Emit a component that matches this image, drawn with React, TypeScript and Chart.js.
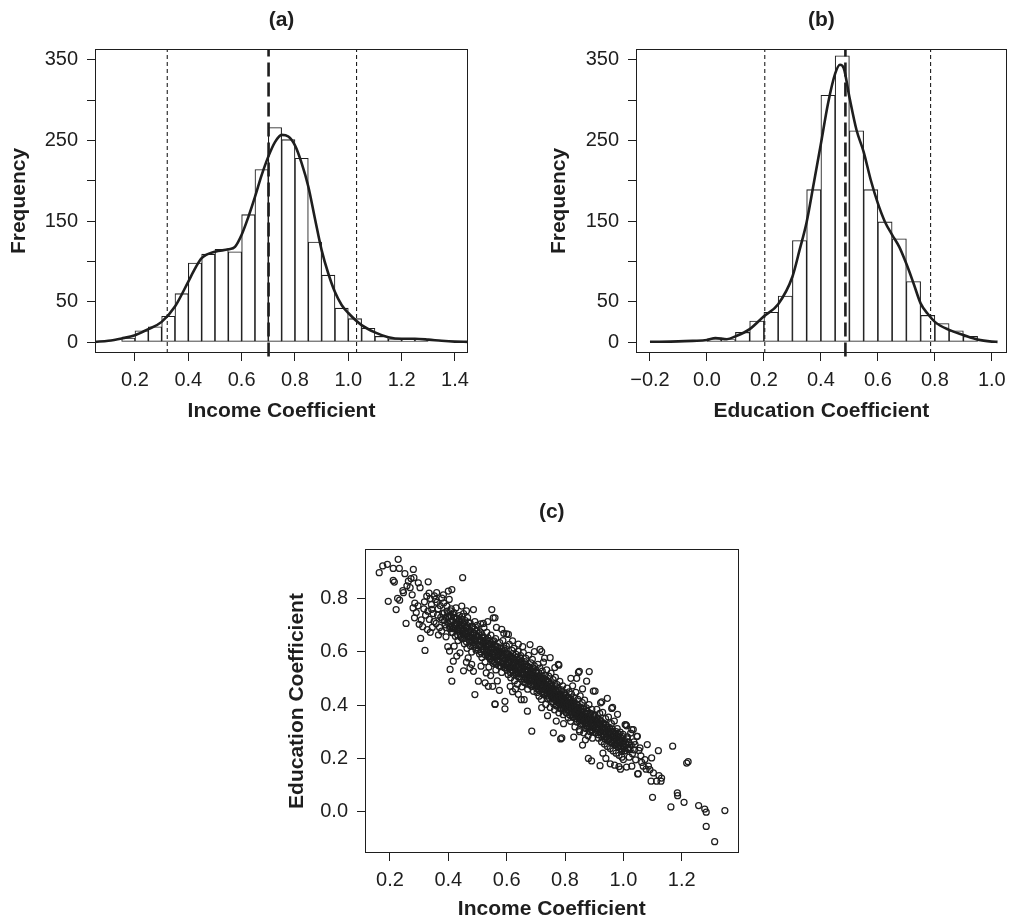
import React, { useEffect, useRef } from 'react';
import { Chart, registerables } from 'chart.js';

Chart.register(...registerables);

const FONT = "'Liberation Sans', Arial, Helvetica, sans-serif";
const INK = '#1e1e1e';

// ---------- Panel (a): income coefficient histogram ----------
const binWidth = 0.05;
const incomeBinStart = 0.15;
const incomeCounts = [5, 14, 19, 32, 60, 98, 109, 115, 112, 158, 214, 266, 251, 228, 124, 83, 42, 29, 17, 7, 4, 3, 3];
const incomeDensityX = [0.05, 0.1, 0.15, 0.2, 0.25, 0.3, 0.35, 0.4, 0.425, 0.45, 0.5, 0.55, 0.575, 0.6, 0.625, 0.65, 0.675, 0.7, 0.725, 0.75, 0.775, 0.8, 0.825, 0.85, 0.875, 0.9, 0.925, 0.95, 0.975, 1.0, 1.05, 1.1, 1.15, 1.2, 1.25, 1.3, 1.35, 1.4, 1.45];
const incomeDensityY = [0.2, 1.5, 4.5, 8.5, 16, 25, 44, 75, 91, 104, 112, 115, 118, 133, 155, 180, 207, 230, 248, 257, 255, 244, 222, 193, 153, 114, 85, 62, 46, 36, 21, 12, 6, 4, 4, 3, 1.5, 0.5, 0.2];
const incomeLines = [0.321, 0.701, 1.031]; // lower, mean, upper

// ---------- Panel (b): education coefficient histogram ----------
const educationBinStart = 0.0;
const educationCounts = [4, 3, 12, 26, 37, 57, 126, 189, 306, 355, 262, 189, 149, 128, 75, 33, 23, 14, 7];
const educationDensityX = [-0.2, -0.1, -0.05, 0.0, 0.03, 0.07, 0.1, 0.15, 0.2, 0.25, 0.3, 0.325, 0.35, 0.375, 0.4, 0.425, 0.45, 0.467, 0.48, 0.5, 0.525, 0.55, 0.575, 0.6, 0.625, 0.65, 0.675, 0.7, 0.725, 0.75, 0.775, 0.8, 0.85, 0.9, 0.95, 1.0, 1.02];
const educationDensityY = [0.3, 0.8, 1.5, 2.5, 5, 3.5, 7, 16, 32, 47, 81, 114, 149, 197, 246, 296, 333, 344, 340, 304, 263, 236, 201, 172, 149, 133, 118, 97, 73, 48, 35, 25, 15, 8.7, 3, 0.5, 0.2];
const educationLines = [0.203, 0.486, 0.785];

// ---------- Panel (c): scatter of (income, education) ----------
const scatterPoints: [number, number][] = [
  [0.163,0.895],[0.175,0.920],[0.191,0.926],[0.228,0.945],[0.211,0.911],[0.232,0.911],[0.251,0.891],[0.280,0.907],[0.282,0.876],[0.211,0.866],[0.215,0.860],[0.246,0.820],[0.194,0.788],[0.221,0.757],[0.255,0.705],[0.263,0.863],[0.269,0.839],[0.297,0.857],[0.331,0.861],[0.303,0.839],[0.449,0.876],[0.305,0.649],[0.320,0.604],[0.360,0.820],[0.400,0.826],[0.412,0.832],
  [0.226,0.799],[0.233,0.792],[0.244,0.828],[0.258,0.846],[0.272,0.873],[0.276,0.812],[0.285,0.781],[0.279,0.763],[0.290,0.746],[0.284,0.726],[0.296,0.771],[0.300,0.702],[0.307,0.718],[0.312,0.693],[0.316,0.760],[0.322,0.736],[0.318,0.786],[0.326,0.807],[0.334,0.818],[0.338,0.798],[0.342,0.775],[0.330,0.751],[0.335,0.720],[0.328,0.682],[0.338,0.672],[0.345,0.690],[0.348,0.742],[0.352,0.808],[0.356,0.795],[0.361,0.784],[0.365,0.760],[0.358,0.705],[0.366,0.662],[0.370,0.690],[0.374,0.728],[0.372,0.772],[0.378,0.800],[0.383,0.812],[0.386,0.745],[0.389,0.700],[0.392,0.655],[0.395,0.770],[0.398,0.728],[0.403,0.795],[0.405,0.685],[0.410,0.760],
  [0.380,0.718],[0.363,0.736],[0.351,0.712],[0.343,0.758],[0.377,0.676],[0.391,0.728],[0.384,0.782],
  [0.406,0.533],[0.412,0.489],[0.417,0.564],[0.429,0.583],[0.440,0.595],[0.404,0.602],[0.420,0.620],[0.398,0.618],[0.452,0.528],[0.462,0.560],[0.468,0.576],[0.480,0.552],[0.474,0.539],[0.486,0.526],[0.491,0.439],[0.503,0.489],[0.526,0.483],[0.537,0.470],
  [0.446,0.770],[0.486,0.757],[0.462,0.752],
  [0.403,0.728],[0.406,0.694],[0.408,0.752],[0.411,0.671],[0.414,0.716],[0.416,0.739],[0.418,0.688],[0.422,0.701],[0.424,0.657],[0.426,0.763],[0.428,0.722],[0.431,0.683],[0.433,0.641],[0.436,0.708],[0.438,0.734],[0.441,0.662],[0.442,0.695],[0.446,0.719],[0.448,0.648],[0.450,0.676],[0.452,0.742],[0.455,0.629],[0.457,0.701],[0.459,0.665],[0.461,0.688],[0.464,0.612],[0.466,0.727],[0.468,0.654],[0.470,0.683],[0.473,0.636],[0.475,0.706],[0.477,0.671],[0.480,0.598],[0.482,0.651],[0.484,0.692],[0.486,0.624],[0.488,0.668],[0.491,0.712],[0.493,0.640],[0.495,0.605],[0.497,0.679],[0.499,0.656],[0.434,0.676],[0.444,0.702],[0.454,0.661],[0.463,0.690],[0.472,0.658],[0.478,0.640],[0.489,0.646],[0.420,0.728],
  [0.502,0.622],[0.504,0.668],[0.507,0.591],[0.509,0.645],[0.511,0.703],[0.514,0.617],[0.515,0.578],[0.518,0.654],[0.519,0.632],[0.522,0.689],[0.523,0.603],[0.526,0.561],[0.527,0.640],[0.529,0.618],[0.532,0.672],[0.533,0.588],[0.536,0.651],[0.537,0.609],[0.539,0.542],[0.542,0.626],[0.543,0.595],[0.546,0.661],[0.547,0.574],[0.549,0.612],[0.552,0.637],[0.553,0.556],[0.556,0.598],[0.557,0.624],[0.559,0.579],[0.562,0.648],[0.563,0.531],[0.566,0.603],[0.567,0.569],[0.569,0.618],[0.572,0.586],[0.573,0.547],[0.576,0.633],[0.577,0.560],[0.579,0.596],[0.582,0.612],[0.583,0.522],[0.586,0.574],[0.587,0.641],[0.589,0.553],[0.592,0.589],[0.593,0.605],[0.595,0.538],[0.597,0.571],[0.599,0.620],[0.510,0.640],[0.520,0.610],[0.531,0.598],[0.541,0.580],[0.551,0.590],[0.560,0.560],[0.571,0.600],[0.580,0.545],[0.590,0.575],
  [0.549,0.757],[0.554,0.726],[0.560,0.726],[0.583,0.683],[0.606,0.664],[0.560,0.404],[0.594,0.414],[0.560,0.402],[0.594,0.386],[0.552,0.470],[0.575,0.455],[0.568,0.490],[0.530,0.520],[0.545,0.510],[0.512,0.545],[0.520,0.705],[0.535,0.712],[0.565,0.690],[0.590,0.668],
  [0.601,0.548],[0.603,0.592],[0.605,0.514],[0.606,0.571],[0.609,0.627],[0.611,0.539],[0.612,0.583],[0.614,0.502],[0.616,0.556],[0.618,0.604],[0.619,0.528],[0.621,0.575],[0.623,0.546],[0.625,0.612],[0.627,0.491],[0.628,0.561],[0.630,0.532],[0.632,0.589],[0.634,0.517],[0.636,0.553],[0.637,0.478],[0.639,0.601],[0.641,0.542],[0.643,0.569],[0.645,0.506],[0.646,0.529],[0.648,0.585],[0.650,0.553],[0.652,0.468],[0.654,0.521],[0.655,0.544],[0.657,0.596],[0.659,0.498],[0.661,0.562],[0.663,0.531],[0.665,0.482],[0.666,0.574],[0.668,0.513],[0.670,0.547],[0.672,0.459],[0.674,0.528],[0.675,0.586],[0.677,0.503],[0.679,0.539],[0.681,0.476],[0.683,0.558],[0.684,0.517],[0.686,0.494],[0.688,0.571],[0.690,0.532],[0.692,0.451],[0.693,0.508],[0.695,0.546],[0.697,0.487],[0.699,0.522],[0.608,0.560],[0.615,0.540],[0.624,0.575],[0.633,0.545],[0.640,0.520],[0.647,0.560],[0.656,0.515],[0.662,0.545],[0.669,0.530],[0.678,0.520],[0.687,0.510],[0.694,0.500],
  [0.600,0.666],[0.620,0.640],[0.640,0.628],[0.655,0.618],[0.680,0.626],[0.671,0.377],[0.686,0.302],[0.620,0.450],[0.640,0.440],[0.660,0.420],[0.612,0.470],[0.630,0.460],[0.695,0.600],[0.650,0.420],
  [0.701,0.473],[0.702,0.521],[0.704,0.447],[0.705,0.498],[0.707,0.552],[0.708,0.462],[0.710,0.509],[0.711,0.433],[0.713,0.486],[0.714,0.538],[0.716,0.469],[0.717,0.502],[0.719,0.421],[0.720,0.478],[0.722,0.527],[0.723,0.451],[0.725,0.494],[0.726,0.560],[0.728,0.438],[0.729,0.483],[0.731,0.512],[0.732,0.459],[0.734,0.402],[0.735,0.471],[0.737,0.531],[0.738,0.446],[0.740,0.489],[0.741,0.423],[0.743,0.465],[0.744,0.508],[0.746,0.440],[0.747,0.478],[0.749,0.391],[0.750,0.455],[0.752,0.519],[0.753,0.432],[0.755,0.470],[0.756,0.414],[0.758,0.447],[0.759,0.495],[0.761,0.426],[0.762,0.461],[0.764,0.382],[0.765,0.439],[0.767,0.503],[0.768,0.417],[0.770,0.452],[0.771,0.398],[0.773,0.476],[0.774,0.433],[0.776,0.409],[0.777,0.462],[0.779,0.371],[0.780,0.426],[0.782,0.488],[0.783,0.404],[0.785,0.441],[0.786,0.386],[0.788,0.457],[0.789,0.418],[0.791,0.395],[0.792,0.472],[0.794,0.364],[0.795,0.430],[0.797,0.408],[0.798,0.446],[0.703,0.490],[0.709,0.480],[0.715,0.485],[0.721,0.460],[0.727,0.470],[0.733,0.488],[0.739,0.460],[0.745,0.455],[0.751,0.470],[0.757,0.435],[0.763,0.445],[0.769,0.430],[0.775,0.440],[0.781,0.415],[0.787,0.425],[0.793,0.410],[0.799,0.420],
  [0.720,0.600],[0.714,0.608],[0.749,0.577],[0.777,0.552],[0.779,0.549],[0.760,0.296],[0.789,0.277],[0.785,0.273],[0.740,0.360],[0.770,0.340],[0.720,0.390],[0.795,0.330],[0.730,0.575],[0.765,0.540],
  [0.801,0.398],[0.802,0.436],[0.804,0.371],[0.805,0.412],[0.807,0.463],[0.808,0.385],[0.810,0.427],[0.811,0.352],[0.813,0.401],[0.814,0.449],[0.816,0.378],[0.817,0.418],[0.819,0.339],[0.820,0.392],[0.822,0.441],[0.823,0.364],[0.825,0.407],[0.826,0.472],[0.828,0.354],[0.829,0.396],[0.831,0.428],[0.832,0.371],[0.834,0.318],[0.835,0.385],[0.837,0.447],[0.838,0.361],[0.840,0.403],[0.841,0.336],[0.843,0.379],[0.844,0.421],[0.846,0.352],[0.847,0.392],[0.849,0.307],[0.850,0.370],[0.852,0.434],[0.853,0.345],[0.855,0.384],[0.856,0.328],[0.858,0.362],[0.859,0.409],[0.861,0.340],[0.862,0.375],[0.864,0.296],[0.865,0.353],[0.867,0.418],[0.868,0.331],[0.870,0.366],[0.871,0.312],[0.873,0.389],[0.874,0.346],[0.876,0.322],[0.877,0.376],[0.879,0.285],[0.880,0.340],[0.882,0.401],[0.883,0.318],[0.885,0.355],[0.886,0.300],[0.888,0.369],[0.889,0.331],[0.891,0.308],[0.892,0.384],[0.894,0.276],[0.895,0.343],[0.897,0.322],[0.898,0.360],[0.806,0.400],[0.818,0.405],[0.824,0.385],[0.836,0.395],[0.842,0.365],[0.848,0.380],[0.854,0.360],[0.860,0.385],[0.866,0.345],[0.872,0.355],[0.878,0.335],[0.884,0.345],[0.890,0.320],[0.896,0.335],
  [0.849,0.526],[0.846,0.522],[0.874,0.489],[0.883,0.525],[0.820,0.500],[0.860,0.460],[0.880,0.200],[0.891,0.191],[0.830,0.280],[0.860,0.250],[0.850,0.300],[0.870,0.270],[0.897,0.452],[0.840,0.500],
  [0.901,0.323],[0.903,0.361],[0.905,0.298],[0.907,0.339],[0.909,0.384],[0.911,0.311],[0.913,0.350],[0.915,0.276],[0.917,0.327],[0.919,0.369],[0.921,0.302],[0.923,0.341],[0.925,0.263],[0.927,0.318],[0.929,0.372],[0.931,0.290],[0.933,0.331],[0.935,0.254],[0.937,0.306],[0.939,0.349],[0.941,0.281],[0.943,0.318],[0.945,0.245],[0.947,0.297],[0.949,0.355],[0.951,0.271],[0.953,0.312],[0.955,0.237],[0.957,0.289],[0.959,0.330],[0.961,0.262],[0.963,0.301],[0.965,0.228],[0.967,0.279],[0.969,0.340],[0.971,0.254],[0.973,0.294],[0.975,0.220],[0.977,0.270],[0.979,0.312],[0.981,0.246],[0.983,0.284],[0.985,0.212],[0.987,0.263],[0.989,0.299],[0.991,0.238],[0.993,0.276],[0.995,0.205],[0.997,0.255],[0.999,0.290],[0.910,0.330],[0.930,0.315],[0.950,0.300],[0.970,0.285],[0.990,0.265],
  [0.903,0.452],[0.922,0.408],[0.926,0.412],[0.960,0.387],[0.963,0.391],[0.920,0.173],[0.940,0.200],[0.955,0.180],[0.970,0.175],[0.985,0.170],[0.990,0.160],[0.930,0.220],[0.945,0.425],[0.980,0.365],
  [1.002,0.255],[1.004,0.228],[1.006,0.327],[1.009,0.326],[1.011,0.322],[1.011,0.168],[1.014,0.281],[1.016,0.240],[1.018,0.262],[1.020,0.205],[1.023,0.233],[1.025,0.295],[1.027,0.250],[1.029,0.308],[1.029,0.171],[1.031,0.218],[1.034,0.308],[1.036,0.262],[1.038,0.232],[1.040,0.252],[1.042,0.195],[1.046,0.283],[1.048,0.283],[1.049,0.142],[1.051,0.143],[1.053,0.230],[1.057,0.240],[1.060,0.210],[1.063,0.185],[1.068,0.171],[1.074,0.196],[1.078,0.160],[1.082,0.252],[1.086,0.171],[1.091,0.158],[1.095,0.115],[1.097,0.202],[1.100,0.055],[1.103,0.146],[1.000,0.196],[0.994,0.227],
  [1.114,0.115],[1.120,0.229],[1.122,0.136],[1.129,0.115],[1.131,0.127],[1.163,0.019],[1.169,0.246],[1.185,0.071],[1.186,0.061],[1.208,0.036],[1.217,0.183],[1.222,0.188],[1.258,0.024],[1.279,0.011],[1.284,-0.001],[1.284,-0.054],[1.313,-0.111],[1.348,0.005],
];

// additional points read from the solid black core of the cloud
const scatterCorePoints: [number, number][] = [
  [0.381,0.742],[0.387,0.716],[0.393,0.689],[0.396,0.751],[0.401,0.703],[0.407,0.735],[0.409,0.712],[0.413,0.693],[0.415,0.671],[0.419,0.746],[0.421,0.684],[0.425,0.708],[0.427,0.695],[0.430,0.725],[0.432,0.662],[0.435,0.690],[0.437,0.718],[0.440,0.680],[0.443,0.653],[0.445,0.688],[0.447,0.731],[0.449,0.667],
  [0.451,0.704],[0.453,0.682],[0.456,0.650],[0.458,0.716],[0.460,0.672],[0.462,0.637],[0.465,0.697],[0.467,0.668],[0.469,0.709],[0.471,0.645],[0.474,0.679],[0.476,0.621],[0.478,0.662],[0.481,0.694],[0.483,0.633],[0.485,0.671],[0.487,0.648],[0.490,0.684],[0.492,0.626],[0.494,0.660],[0.496,0.615],[0.498,0.698],[0.501,0.641],[0.503,0.606],[0.505,0.655],[0.508,0.625],[0.510,0.674],[0.512,0.598],[0.514,0.640],[0.516,0.662],[0.519,0.607],[0.521,0.631],[0.523,0.650],[0.525,0.589],[0.528,0.622],[0.530,0.645],[0.532,0.603],[0.534,0.629],[0.537,0.581],[0.539,0.617],[0.541,0.640],[0.543,0.572],[0.545,0.605],[0.548,0.628],[0.550,0.566],
  [0.552,0.615],[0.554,0.586],[0.556,0.640],[0.558,0.561],[0.561,0.599],[0.563,0.620],[0.565,0.553],[0.567,0.584],[0.569,0.604],[0.572,0.566],[0.574,0.592],[0.576,0.613],[0.578,0.545],[0.580,0.580],[0.583,0.601],[0.585,0.556],[0.587,0.585],[0.589,0.614],[0.591,0.540],[0.594,0.570],[0.596,0.592],[0.598,0.549],[0.600,0.578],[0.602,0.530],[0.604,0.561],[0.607,0.589],[0.609,0.541],[0.611,0.566],[0.613,0.521],[0.615,0.578],[0.618,0.549],[0.620,0.592],[0.622,0.530],[0.624,0.557],[0.626,0.512],[0.629,0.569],[0.631,0.541],[0.633,0.522],[0.635,0.578],[0.637,0.548],[0.640,0.505],[0.642,0.556],[0.644,0.530],[0.646,0.574],[0.648,0.516],[0.650,0.539],
  [0.651,0.497],[0.653,0.561],[0.655,0.522],[0.657,0.540],[0.659,0.485],[0.662,0.515],[0.664,0.552],[0.666,0.495],[0.668,0.531],[0.670,0.508],[0.673,0.478],[0.675,0.543],[0.677,0.517],[0.679,0.491],[0.681,0.532],[0.684,0.503],[0.686,0.469],[0.688,0.525],[0.690,0.497],[0.692,0.538],[0.695,0.476],[0.697,0.510],[0.699,0.488],[0.701,0.529],[0.703,0.462],[0.706,0.503],[0.708,0.478],[0.710,0.520],[0.712,0.455],[0.714,0.492],[0.717,0.471],[0.719,0.509],[0.721,0.447],[0.723,0.486],[0.725,0.463],[0.728,0.500],[0.730,0.441],[0.732,0.476],[0.734,0.455],[0.736,0.494],[0.739,0.434],[0.741,0.468],[0.743,0.448],[0.745,0.487],[0.747,0.425],[0.750,0.462],
  [0.752,0.441],[0.754,0.479],[0.756,0.428],[0.758,0.458],[0.761,0.404],[0.763,0.436],[0.765,0.469],[0.767,0.418],[0.769,0.447],[0.772,0.396],[0.774,0.425],[0.776,0.456],[0.778,0.409],[0.780,0.437],[0.783,0.388],[0.785,0.418],[0.787,0.450],[0.789,0.401],[0.791,0.429],[0.794,0.380],[0.796,0.412],[0.798,0.437],[0.800,0.390],[0.802,0.418],[0.805,0.372],[0.807,0.403],[0.809,0.430],[0.811,0.383],[0.813,0.410],[0.816,0.363],[0.818,0.394],[0.820,0.421],[0.822,0.374],[0.824,0.401],[0.827,0.355],[0.829,0.386],[0.831,0.412],[0.833,0.366],[0.835,0.393],[0.838,0.348],[0.840,0.377],[0.842,0.402],[0.844,0.356],[0.846,0.384],[0.849,0.340],
  [0.851,0.367],[0.853,0.392],[0.855,0.349],[0.857,0.376],[0.860,0.331],[0.862,0.360],[0.864,0.385],[0.866,0.339],[0.868,0.368],[0.871,0.322],[0.873,0.351],[0.875,0.376],[0.877,0.331],[0.879,0.358],[0.882,0.313],[0.884,0.342],[0.886,0.367],[0.888,0.323],[0.890,0.350],[0.893,0.305],[0.895,0.334],[0.897,0.357],[0.899,0.314],[0.901,0.341],[0.904,0.297],[0.906,0.326],[0.908,0.350],[0.910,0.305],[0.912,0.333],[0.915,0.289],[0.917,0.318],[0.919,0.342],[0.921,0.297],[0.923,0.325],[0.926,0.281],[0.928,0.310],[0.930,0.333],[0.932,0.289],[0.934,0.316],[0.937,0.273],[0.939,0.301],[0.941,0.325],[0.943,0.281],[0.945,0.308],[0.948,0.266],
  [0.950,0.293],[0.952,0.316],[0.954,0.274],[0.957,0.300],[0.959,0.258],[0.961,0.285],[0.963,0.309],[0.966,0.266],[0.968,0.292],[0.970,0.250],[0.972,0.277],[0.975,0.300],[0.977,0.258],[0.979,0.284],[0.982,0.242],[0.984,0.268],[0.986,0.291],[0.988,0.250],[0.991,0.276],[0.993,0.235],[0.996,0.260],[0.998,0.282],[1.001,0.243],[1.004,0.268],[1.007,0.229],[1.010,0.252],[1.013,0.273],[1.016,0.235],[1.019,0.259],
];

// ---------- helpers ----------
const fmt1 = (v: number) => {
  const r = Math.round(v * 10) / 10;
  if (Math.abs(r) < 1e-9) return '0.0';
  return (r < 0 ? '\u2212' : '') + Math.abs(r).toFixed(1);
};

const framePlugin = {
  id: 'frame',
  afterDatasetsDraw(chart: any) {
    const { ctx, chartArea: a } = chart;
    ctx.save();
    ctx.strokeStyle = INK;
    ctx.lineWidth = 1;
    const l = Math.round(a.left) + 0.5;
    const t = Math.round(a.top) + 0.5;
    const r = Math.round(a.right) - 0.5;
    const b = Math.round(a.bottom) - 0.5;
    ctx.strokeRect(l, t, r - l, b - t);
    ctx.restore();
  },
};

const tickFont = { family: FONT, size: 20 };
const titleFont = { family: FONT, size: 21, weight: 'bold' as const, lineHeight: '24px' };
const gridOpts = { offset: false, drawOnChartArea: false, drawTicks: true, tickLength: 8, color: INK, lineWidth: 1 };

function axis(min: number, max: number, step: number, title: string, titlePad: any, tickPad: number, size: number, isY: boolean, cb: (v: number) => string) {
  return {
    type: 'linear',
    min,
    max,
    offset: false,
    afterFit: (s: any) => {
      if (isY) s.width = size;
      else s.height = size;
    },
    grid: gridOpts,
    border: { display: false },
    ticks: {
      stepSize: step,
      includeBounds: false,
      autoSkip: false,
      maxRotation: 0,
      minRotation: 0,
      padding: tickPad,
      color: INK,
      font: tickFont,
      callback: (v: any) => cb(Number(v)),
    },
    title: { display: true, text: title, color: INK, font: titleFont, padding: titlePad },
  };
}

function histConfig(opts: {
  title: string;
  xTitle: string;
  binStart: number;
  counts: number[];
  densX: number[];
  densY: number[];
  lines: number[];
  xMin: number;
  xMax: number;
  yAxisWidth: number;
  rightPad: number;
}) {
  const yMin = -13.6;
  const yMax = 363.5;
  const bars = opts.counts.map((c, i) => ({ x: opts.binStart + binWidth * (i + 0.5), y: c }));
  const dens = opts.densX.map((x, i) => ({ x, y: opts.densY[i] }));
  const vline = (x: number, lo: number) => [{ x, y: lo }, { x, y: yMax }];
  return {
    type: 'bar',
    data: {
      datasets: [
        { type: 'line', data: dens, borderColor: INK, borderWidth: 2.6, pointRadius: 0, fill: false, cubicInterpolationMode: 'monotone' },
        { type: 'line', data: vline(opts.lines[1], -18), borderColor: INK, borderWidth: 2.6, borderDash: [14, 6], pointRadius: 0, fill: false, clip: false },
        { type: 'line', data: vline(opts.lines[0], yMin), borderColor: INK, borderWidth: 1.1, borderDash: [4, 3], pointRadius: 0, fill: false },
        { type: 'line', data: vline(opts.lines[2], yMin), borderColor: INK, borderWidth: 1.1, borderDash: [4, 3], pointRadius: 0, fill: false },
        { type: 'bar', data: bars, backgroundColor: '#ffffff', borderColor: INK, borderWidth: 1.1, borderSkipped: false, barPercentage: 1, categoryPercentage: 1 },
      ],
    },
    options: {
      animation: false,
      responsive: false,
      events: [],
      layout: { padding: { left: 0, top: 0, right: opts.rightPad, bottom: 0 } },
      plugins: {
        legend: { display: false },
        tooltip: { enabled: false },
        title: { display: true, text: opts.title, fullSize: false, color: INK, font: titleFont, padding: { top: 8, bottom: 17 } },
      },
      scales: {
        x: axis(opts.xMin, opts.xMax, 0.2, opts.xTitle, { top: 0, bottom: 7 }, 7, 77, false, fmt1),
        y: axis(yMin, yMax, 50, 'Frequency', { top: 7, bottom: 0 }, 9, opts.yAxisWidth, true, (v) =>
          v === 100 || v === 200 || v === 300 ? '' : String(v)
        ),
      },
    },
    plugins: [framePlugin],
  };
}

function scatterConfig() {
  const all = scatterPoints.concat(scatterCorePoints);
  return {
    type: 'scatter',
    data: {
      datasets: [
        {
          data: all.map(([x, y]) => ({ x, y })),
          pointStyle: 'circle',
          pointRadius: 3,
          pointBorderWidth: 1.25,
          borderColor: INK,
          backgroundColor: 'rgba(0,0,0,0)',
        },
      ],
    },
    options: {
      animation: false,
      responsive: false,
      events: [],
      layout: { padding: { left: 0, top: 0, right: 51.5, bottom: 0 } },
      plugins: {
        legend: { display: false },
        tooltip: { enabled: false },
        title: { display: true, text: '(c)', fullSize: false, color: INK, font: titleFont, padding: { top: 20, bottom: 25 } },
      },
      scales: {
        x: axis(0.1143, 1.3947, 0.2, 'Income Coefficient', { top: 0, bottom: 2 }, 7, 70, false, fmt1),
        y: axis(-0.1535, 0.9835, 0.2, 'Education Coefficient', { top: 15, bottom: 0 }, 9, 95, true, fmt1),
      },
    },
    plugins: [framePlugin],
  };
}

function Panel(props: { left: number; top: number; width: number; height: number; build: () => any }) {
  const ref = useRef<HTMLCanvasElement>(null);
  useEffect(() => {
    const chart = new Chart(ref.current as HTMLCanvasElement, props.build());
    return () => chart.destroy();
  }, []);
  return (
    <div style={{ position: 'absolute', left: props.left, top: props.top, width: props.width, height: props.height }}>
      <canvas ref={ref} width={props.width} height={props.height} style={{ width: props.width, height: props.height, display: 'block' }} />
    </div>
  );
}

export default function App() {
  return (
    <div style={{ position: 'absolute', left: 0, top: 0, width: 1013, height: 923, background: '#ffffff', overflow: 'hidden' }}>
      <Panel
        left={0}
        top={0}
        width={500}
        height={430}
        build={() =>
          histConfig({
            title: '(a)',
            xTitle: 'Income Coefficient',
            binStart: incomeBinStart,
            counts: incomeCounts,
            densX: incomeDensityX,
            densY: incomeDensityY,
            lines: incomeLines,
            xMin: 0.05,
            xMax: 1.449,
            yAxisWidth: 95,
            rightPad: 32,
          })
        }
      />
      <Panel
        left={540}
        top={0}
        width={473}
        height={430}
        build={() =>
          histConfig({
            title: '(b)',
            xTitle: 'Education Coefficient',
            binStart: educationBinStart,
            counts: educationCounts,
            densX: educationDensityX,
            densY: educationDensityY,
            lines: educationLines,
            xMin: -0.249,
            xMax: 1.052,
            yAxisWidth: 96,
            rightPad: 3,
          })
        }
      />
      <Panel left={270} top={480} width={520} height={443} build={scatterConfig} />
    </div>
  );
}
